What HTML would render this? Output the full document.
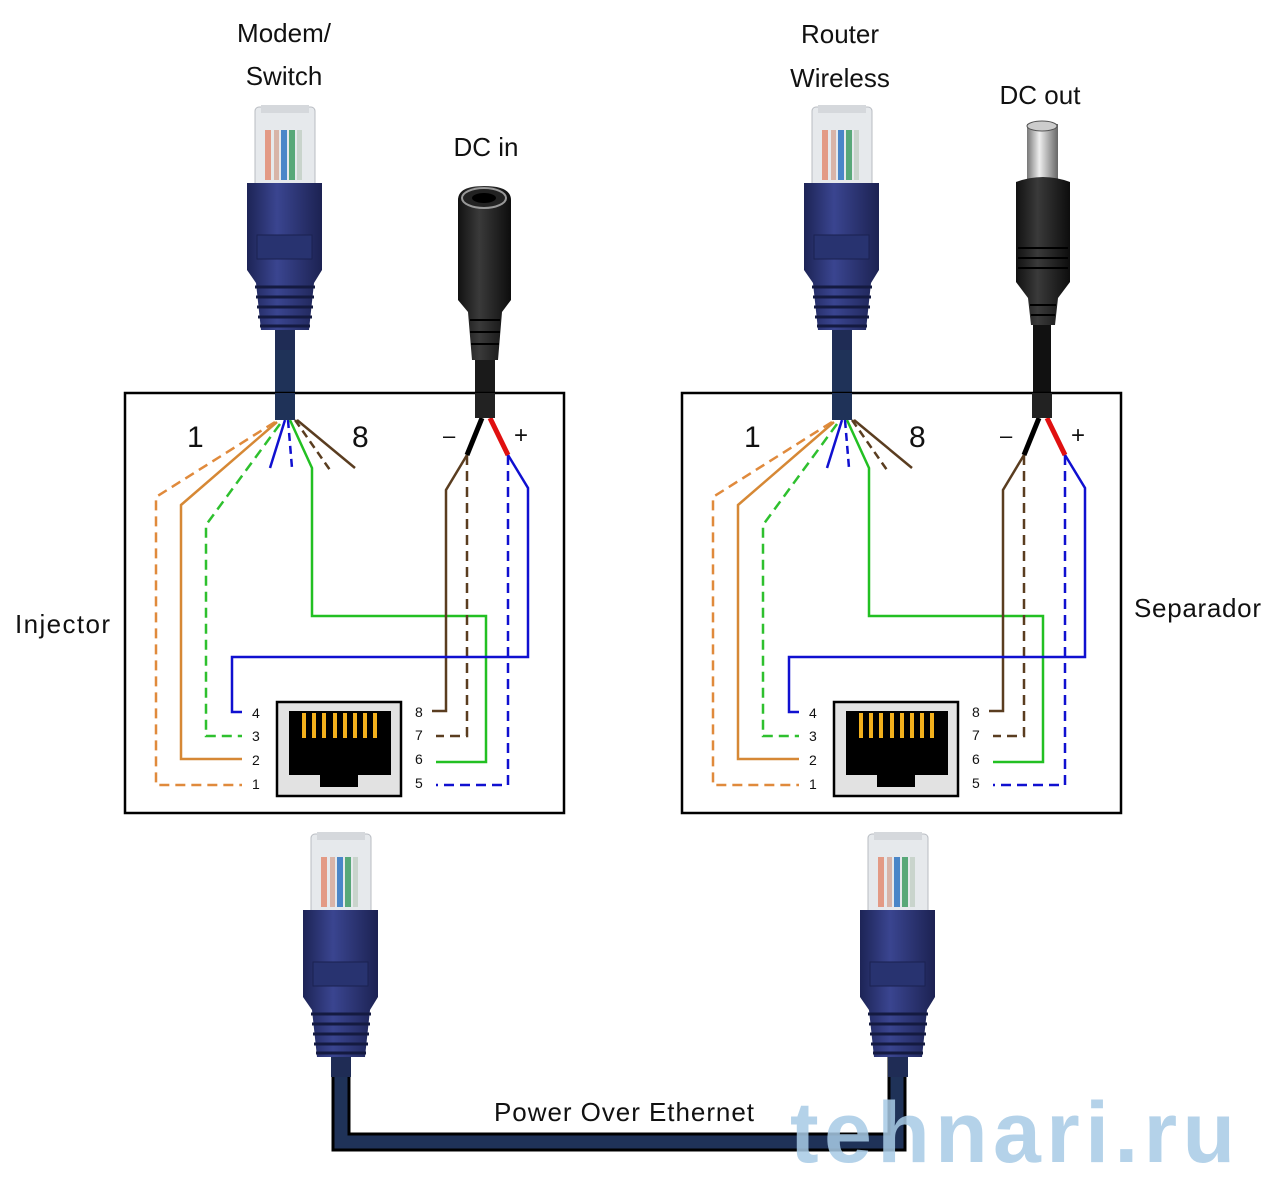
<!DOCTYPE html>
<html><head><meta charset="utf-8"><style>
html,body{margin:0;padding:0;background:#fff;}
svg{display:block}
text{font-family:"Liberation Sans",sans-serif;fill:#111}
</style></head><body>
<svg width="1280" height="1196" viewBox="0 0 1280 1196" xmlns="http://www.w3.org/2000/svg">
<defs>
<linearGradient id="boot" x1="0" x2="1"><stop offset="0" stop-color="#1d2456"/><stop offset="0.4" stop-color="#3a4590"/><stop offset="1" stop-color="#1c2252"/></linearGradient>
<linearGradient id="blk" x1="0" x2="1"><stop offset="0" stop-color="#111"/><stop offset="0.4" stop-color="#3a3a3a"/><stop offset="1" stop-color="#0d0d0d"/></linearGradient>
<linearGradient id="met" x1="0" x2="1"><stop offset="0" stop-color="#777"/><stop offset="0.4" stop-color="#eee"/><stop offset="1" stop-color="#666"/></linearGradient>
<g id="plug">
  <rect x="28" y="215" width="20" height="30" fill="#1f2c55"/>
  <rect x="8" y="2" width="60" height="80" rx="4" fill="#e6e9ec" stroke="#b8bcc2"/>
  <rect x="14" y="0" width="48" height="8" fill="#d5d8dc"/>
  <rect x="18" y="25" width="6" height="50" fill="#e39a85"/>
  <rect x="27" y="25" width="5" height="50" fill="#d8b4a8"/>
  <rect x="34" y="25" width="6" height="50" fill="#4a86c8"/>
  <rect x="42" y="25" width="6" height="50" fill="#58a878"/>
  <rect x="50" y="25" width="5" height="50" fill="#c9d4cc"/>
  <path d="M0 78 H75 V165 L67 178 L62 225 H14 L9 178 L0 165 Z" fill="url(#boot)"/>
  <rect x="10" y="130" width="55" height="24" fill="#283370" stroke="#1a2150"/>
  <g stroke="#141a40" stroke-width="3">
    <line x1="8" y1="182" x2="68" y2="182"/><line x1="9" y1="192" x2="67" y2="192"/><line x1="10" y1="202" x2="66" y2="202"/><line x1="11" y1="212" x2="65" y2="212"/><line x1="13" y1="221" x2="63" y2="221"/>
  </g>
</g>
<g id="box">
  <rect x="125" y="393" width="439" height="420" fill="#fff" stroke="#000" stroke-width="2.5"/>
  <g fill="none" stroke-width="2.5">
    <path d="M275 422 L156 497 V785 H242" stroke="#e08a3c" stroke-dasharray="10 6"/>
    <path d="M277 422 L181 505 V759 H242" stroke="#d68835"/>
    <path d="M280 424 L206 525 V736 H242" stroke="#2ec02e" stroke-dasharray="10 6"/>
    <path d="M285 420 L270 468" stroke="#1010d0"/>
    <path d="M288 420 L292 468" stroke="#1010d0" stroke-dasharray="8 5"/>
    <path d="M290 420 L312 468 V616 H486 V762 H436" stroke="#22c022"/>
    <path d="M295 420 L330 470" stroke="#5a3d20" stroke-dasharray="8 5"/>
    <path d="M297 420 L355 468" stroke="#5a3d20"/>
    <path d="M467 455 L446 490 V711 H432" stroke="#5a3d20"/>
    <path d="M467 455 V736 H436" stroke="#5a3d20" stroke-dasharray="10 6"/>
    <path d="M508 455 L528 488 V657 H232 V712 H242" stroke="#1010d0"/>
    <path d="M508 455 V785 H436" stroke="#1010d0" stroke-dasharray="10 6"/>
    <path d="M482 418 L467 455" stroke="#000" stroke-width="5"/>
    <path d="M490 418 L508 455" stroke="#e01010" stroke-width="5"/>
  </g>
  <rect x="275" y="393" width="20" height="27" fill="#1f3258"/>
  <rect x="475" y="393" width="20" height="25" fill="#222"/>
  <text x="187" y="447" font-size="30">1</text>
  <text x="352" y="447" font-size="30">8</text>
  <text x="443" y="443" font-size="22">–</text>
  <text x="514" y="443" font-size="24">+</text>
  <g font-size="14">
    <text x="252" y="718">4</text><text x="252" y="741">3</text><text x="252" y="765">2</text><text x="252" y="789">1</text>
    <text x="415" y="717">8</text><text x="415" y="740">7</text><text x="415" y="764">6</text><text x="415" y="788">5</text>
  </g>
  <rect x="277" y="702" width="124" height="94" fill="#e2e2e2" stroke="#000" stroke-width="2.5"/>
  <rect x="289" y="711" width="102" height="64" fill="#000"/>
  <rect x="320" y="774" width="38" height="13" fill="#000"/>
  <g fill="#f2b01c">
    <rect x="302" y="713" width="4" height="25"/><rect x="312" y="713" width="4" height="25"/><rect x="322" y="713" width="4" height="25"/><rect x="333" y="713" width="4" height="25"/><rect x="343" y="713" width="4" height="25"/><rect x="353" y="713" width="4" height="25"/><rect x="363" y="713" width="4" height="25"/><rect x="373" y="713" width="4" height="25"/>
  </g>
</g>
</defs>

<rect x="275" y="320" width="20" height="80" fill="#1f3258"/>
<use href="#plug" x="247" y="105"/>
<rect x="475" y="340" width="20" height="60" fill="#1a1a1a"/>
<path d="M458 200 Q458 186 484 186 Q511 186 511 200 V300 L502 312 L498 360 H472 L468 312 L458 300 Z" fill="url(#blk)"/>
<ellipse cx="484" cy="198" rx="22" ry="10" fill="#222" stroke="#999" stroke-width="2"/>
<ellipse cx="484" cy="198" rx="12" ry="5" fill="#000"/>
<g stroke="#000" stroke-width="2"><line x1="470" y1="320" x2="500" y2="320"/><line x1="470" y1="332" x2="500" y2="332"/><line x1="471" y1="344" x2="499" y2="344"/></g>

<rect x="832" y="320" width="20" height="80" fill="#1f3258"/>
<use href="#plug" x="804" y="105"/>
<rect x="1033" y="320" width="18" height="80" fill="#111"/>
<rect x="1027" y="124" width="31" height="62" fill="url(#met)"/>
<ellipse cx="1042" cy="126" rx="15" ry="5" fill="#ccc" stroke="#555"/>
<path d="M1016 182 Q1043 172 1070 182 V282 L1058 298 L1055 325 H1031 L1028 298 L1016 282 Z" fill="url(#blk)"/>
<g stroke="#000" stroke-width="2"><line x1="1018" y1="248" x2="1068" y2="248"/><line x1="1018" y1="258" x2="1068" y2="258"/><line x1="1018" y1="268" x2="1068" y2="268"/><line x1="1030" y1="305" x2="1056" y2="305"/><line x1="1031" y1="315" x2="1055" y2="315"/></g>

<use href="#box"/>
<use href="#box" x="557"/>

<path d="M341 1050 V1142 H897 V1050" fill="none" stroke="#000" stroke-width="19"/>
<path d="M341 1050 V1142 H897 V1050" fill="none" stroke="#1f3258" stroke-width="13"/>
<use href="#plug" x="303" y="832"/>
<use href="#plug" x="860" y="832"/>

<g font-size="26">
<text x="284" y="42" text-anchor="middle">Modem/</text>
<text x="284" y="85" text-anchor="middle">Switch</text>
<text x="486" y="156" text-anchor="middle">DC in</text>
<text x="840" y="43" text-anchor="middle">Router</text>
<text x="840" y="87" text-anchor="middle">Wireless</text>
<text x="1040" y="104" text-anchor="middle">DC out</text>
<text x="15" y="633" textLength="95">Injector</text>
<text x="1134" y="617" textLength="127">Separador</text>
<text x="624" y="1121" text-anchor="middle" textLength="260">Power Over Ethernet</text>
</g>
<text x="790" y="1162" font-size="86" font-weight="bold" style="fill:#a8cbe6;opacity:0.85" textLength="445">tehnari.ru</text>
</svg>
</body></html>
